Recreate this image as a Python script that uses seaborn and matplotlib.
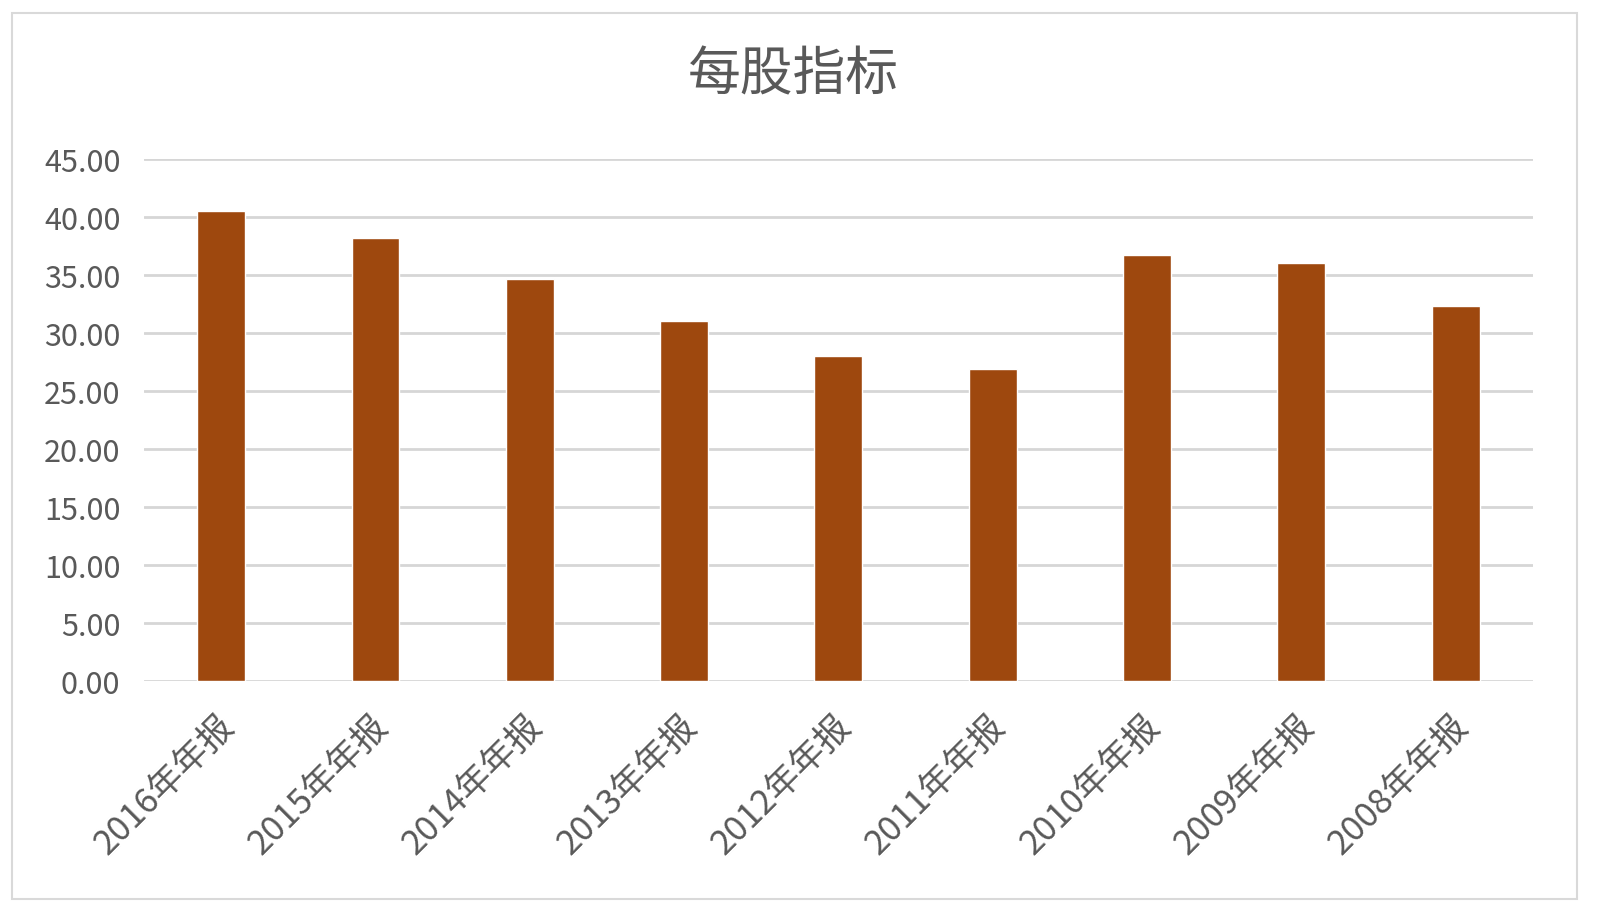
import matplotlib
matplotlib.use("Agg")
import matplotlib.pyplot as plt
import seaborn as sns
import pandas as pd
from matplotlib.patches import Rectangle

categories = ["2016年年报", "2015年年报", "2014年年报", "2013年年报", "2012年年报",
              "2011年年报", "2010年年报", "2009年年报", "2008年年报"]
values = [40.5, 38.2, 34.6, 31.0, 28.0, 26.9, 36.7, 36.0, 32.3]
yticks = [0, 5, 10, 15, 20, 25, 30, 35, 40, 45]
title = "每股指标"

sns.set_theme(style="white")
plt.rcParams['font.family'] = ['Noto Sans CJK SC', 'DejaVu Sans']

df = pd.DataFrame({"cat": categories, "val": values})

fig = plt.figure(figsize=(16, 9.12), dpi=100)
ax = fig.add_axes([0.09, 0.252, 0.868, 0.573])

sns.barplot(data=df, x="cat", y="val", color="#9E480E", saturation=1,
            width=0.31, ax=ax, zorder=3)

ax.set_ylim(0, 45)
ax.set_yticks(yticks)
ax.set_yticklabels([f"{v:.2f}" for v in yticks])
ax.set_xlim(-0.5, len(categories) - 0.5)
ax.yaxis.grid(True, color="#D6D6D6", linewidth=2.0, zorder=0)
ax.set_axisbelow(True)
for s in ax.spines.values():
    s.set_visible(False)
ax.set_xlabel("")
ax.set_ylabel("")
ax.tick_params(axis="y", length=0, pad=17, labelsize=22, labelcolor="#595959")
ax.tick_params(axis="x", length=0, pad=10, labelsize=25, labelcolor="#595959")
plt.setp(ax.get_xticklabels(), rotation=45, ha="right", rotation_mode="anchor")
for lbl in ax.get_xticklabels():
    lbl.set_transform(lbl.get_transform() + matplotlib.transforms.ScaledTranslation(-0.05, -0.12, fig.dpi_scale_trans))

fig.text(0.496, 1 - 75 / 912, title, ha="center", va="center",
         fontsize=38, color="#595959")

fig.patches.append(Rectangle((12 / 1600, 1 - 900 / 912), (1577 - 12) / 1600, (900 - 14) / 912,
                             transform=fig.transFigure, fill=False,
                             edgecolor="#D9D9D9", linewidth=1.5))

fig.savefig("out.png", dpi=100, facecolor="white")
